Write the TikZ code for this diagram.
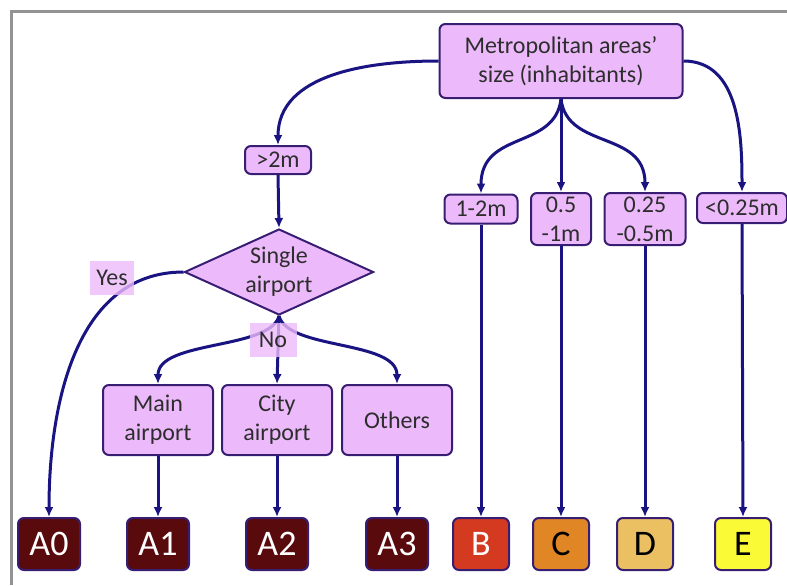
\documentclass[tikz,border=0pt]{standalone}
\usepackage{fontspec}
\setmainfont{Carlito}
\usetikzlibrary{arrows.meta,shapes.geometric}
\definecolor{boxfill}{RGB}{236,186,250}
\definecolor{boxline}{RGB}{55,30,115}
\definecolor{arrowc}{RGB}{25,20,130}
\definecolor{txt}{RGB}{45,45,45}
\definecolor{catA}{RGB}{88,10,12}
\definecolor{catB}{RGB}{212,58,32}
\definecolor{catC}{RGB}{224,134,36}
\definecolor{catD}{RGB}{234,192,98}
\definecolor{catE}{RGB}{250,250,55}
\begin{document}
\begin{tikzpicture}[x=0.5pt,y=-0.5pt,
                  font=\fontsize{12}{14.5}\selectfont,text=txt,
                  box/.style={draw=boxline,fill=boxfill,line width=1pt,rounded corners=3pt,align=center,inner sep=1pt},
                  leaf/.style={draw=boxline,line width=1pt,rounded corners=3pt,inner sep=0pt,minimum width=31pt,minimum height=26pt,font=\fontsize{18}{20}\selectfont},
                  tag/.style={fill=boxfill,fill opacity=0.8,text opacity=1,inner sep=0pt,minimum width=22pt,minimum height=17pt},
                  arr/.style={-{Latex[length=5pt,width=4.5pt]},draw=arrowc,line width=1.5pt}
                ]
                \useasboundingbox (0,0) rectangle (787,585);
                \draw[gray!85,line width=1.5pt] (11,585) -- (11,11) -- (787,11);
                
                \node[box,minimum width=121.5pt,minimum height=37pt] (metro) at (561,61) {Metropolitan areas'\\size (inhabitants)};
                \node[box,minimum width=33pt,minimum height=14pt] (gt2) at (278,160) {>2m};
                \node[box,minimum width=36.5pt,minimum height=14.5pt] (r12) at (481,209) {1-2m};
                \node[box,minimum width=30pt,minimum height=26pt] (r051) at (561,219) {0.5\\-1m};
                \node[box,minimum width=40.5pt,minimum height=26pt] (r0205) at (645,219) {0.25\\-0.5m};
                \node[box,minimum width=45pt,minimum height=15pt] (lt) at (742,208) {<0.25m};
                \node[diamond,draw=boxline,fill=boxfill,line width=1pt,aspect=2.2,inner sep=0pt,minimum width=94.5pt,minimum height=43pt,align=center] (single) at (279,272) {Single\\airport};
                \node[box,minimum width=55pt,minimum height=35pt] (main) at (158,420) {Main\\airport};
                \node[box,minimum width=55pt,minimum height=35pt] (city) at (277,420) {City\\airport};
                \node[box,minimum width=55pt,minimum height=35pt] (others) at (397,420) {Others};
                
                \node[leaf,fill=catA,text=white] (a0) at (49,544) {A0};
                \node[leaf,fill=catA,text=white] (a1) at (158,544) {A1};
                \node[leaf,fill=catA,text=white] (a2) at (277,544) {A2};
                \node[leaf,fill=catA,text=white] (a3) at (397,544) {A3};
                \node[leaf,fill=catB,text=white,minimum width=28pt] (b) at (481,544) {B};
                \node[leaf,fill=catC,text=black,minimum width=28pt] (c) at (561,544) {C};
                \node[leaf,fill=catD,text=black,minimum width=28pt] (d) at (645,544) {D};
                \node[leaf,fill=catE,text=black,minimum width=28pt] (e) at (743,544) {E};
                
                \draw[arr] (metro.west) to[out=180,in=90] (gt2.north);
                \draw[arr] (metro.south) .. controls (555,150) and (481,130) .. (r12.north);
                \draw[arr] (metro.south) -- (r051.north);
                \draw[arr] (metro.south) .. controls (567,150) and (645,130) .. (r0205.north);
                \draw[arr] (metro.east) to[out=0,in=90] (lt.north);
                \draw[arr] (gt2.south) -- (single.north);
                \draw[arr] (single.west) to[out=180,in=90] (a0.north);
                \draw[arr] (single.south) .. controls (270,350) and (158,340) .. (main.north);
                \draw[arr] (single.south) -- (city.north);
                \draw[arr] (single.south) .. controls (288,350) and (397,340) .. (others.north);
                \draw[arr] (main.south) -- (a1.north);
                \draw[arr] (city.south) -- (a2.north);
                \draw[arr] (others.south) -- (a3.north);
                \draw[arr] (r12.south) -- (b.north);
                \draw[arr] (r051.south) -- (c.north);
                \draw[arr] (r0205.south) -- (d.north);
                \draw[arr] (lt.south) -- (e.north);
                
                \node[tag] (yes) at (112,278) {Yes};
                \node[tag,minimum width=23.5pt] (no) at (273,340) {No};
                \end{tikzpicture}
\end{document}
